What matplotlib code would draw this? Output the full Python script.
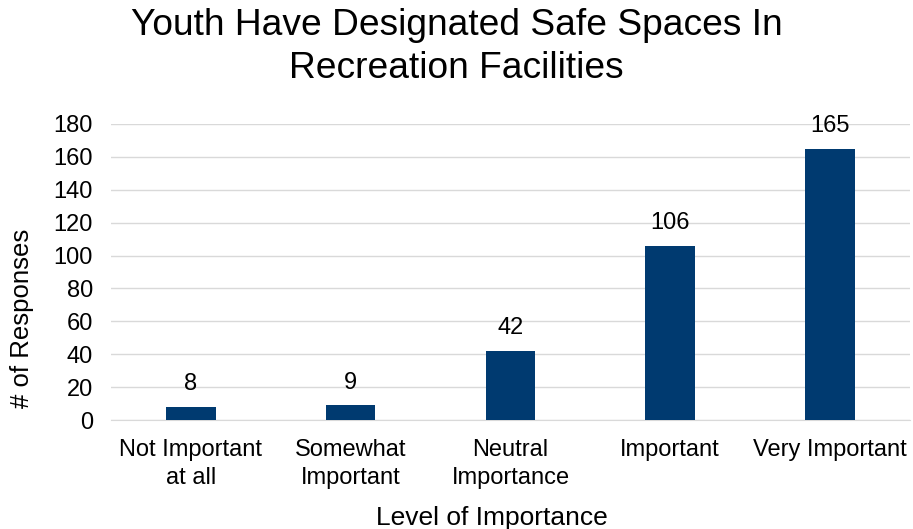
import matplotlib.pyplot as plt

plt.rcParams['font.family'] = ['Liberation Sans', 'DejaVu Sans']

categories = ["Not Important\nat all", "Somewhat\nImportant", "Neutral\nImportance",
              "Important", "Very Important"]
responses = [8, 9, 42, 106, 165]

fig = plt.figure(figsize=(9.13, 5.29), dpi=100)
ax = fig.add_axes([0.1216, 0.206, 0.875, 0.5596])

x = range(len(categories))
bars = ax.bar(x, responses, width=0.31, color='#003a70', zorder=3)
for b, v in zip(bars, responses):
    ax.text(b.get_x() + b.get_width() / 2, v + 7, str(v),
            ha='center', va='bottom', fontsize=17, color='black')

ax.set_xlim(-0.5, len(categories) - 0.5)
ax.set_ylim(0, 180)
ax.set_yticks(range(0, 181, 20))
ax.set_xticks(list(x))
ax.set_xticklabels(categories, fontsize=17, linespacing=1.3)
ax.tick_params(axis='y', labelsize=17, length=0, pad=13)
ax.tick_params(axis='x', length=0, pad=14)
ax.grid(axis='y', color='#d9d9d9', linewidth=1, zorder=0)
for s in ['top', 'right', 'left']:
    ax.spines[s].set_visible(False)
ax.spines['bottom'].set_color('#d9d9d9')

ax.set_xlabel('Level of Importance', fontsize=19)
ax.set_ylabel('# of Responses', fontsize=18.5)
ax.xaxis.set_label_coords(0.477, -0.29)
ax.yaxis.set_label_coords(-0.096, 0.345)
fig.suptitle('Youth Have Designated Safe Spaces In\nRecreation Facilities',
             fontsize=26.7, y=0.985, linespacing=1.3)

fig.savefig('out.png', dpi=100)
